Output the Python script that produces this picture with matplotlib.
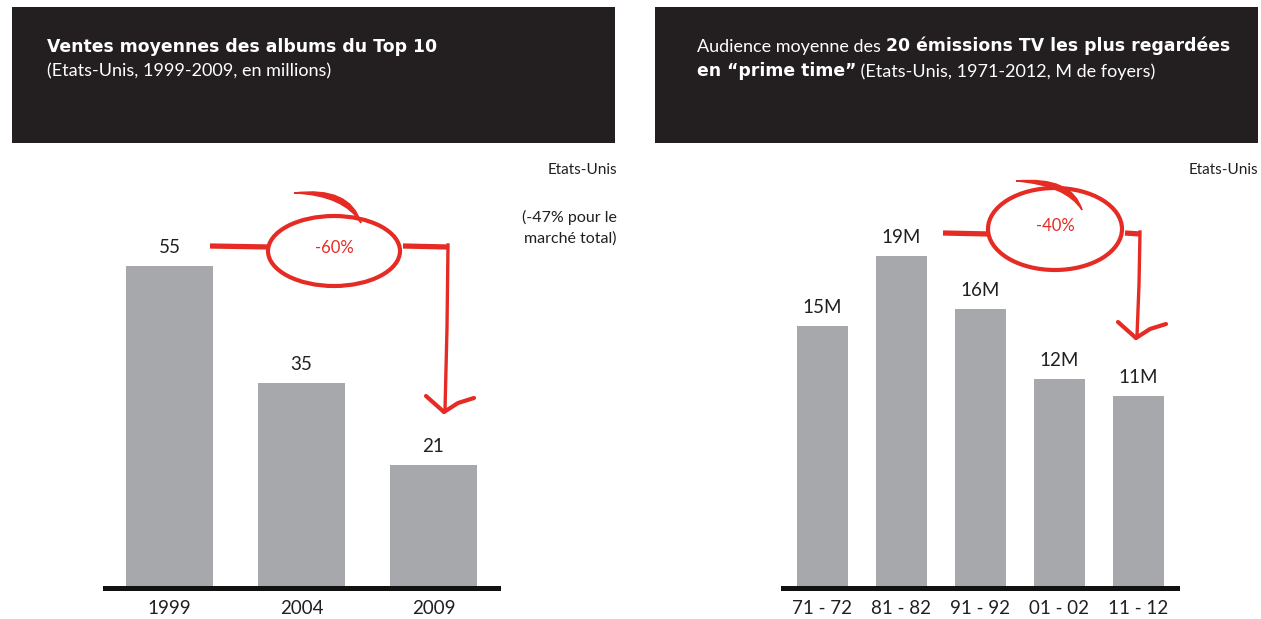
import matplotlib.pyplot as plt
from matplotlib.patches import Rectangle, Ellipse, PathPatch
from matplotlib.path import Path

plt.rcParams['font.family'] = ['Lato', 'DejaVu Sans']

# données
albums_annees = ["1999", "2004", "2009"]
albums_ventes = [55, 35, 21]

tv_saisons = ["71 - 72", "81 - 82", "91 - 92", "01 - 02", "11 - 12"]
tv_audience = [15, 19, 16, 12, 11]
tv_labels = ["15M", "19M", "16M", "12M", "11M"]

gris = '#a7a8ac'
rouge = '#e52b24'
fond_titre = '#231f20'
gras = ['DejaVu Sans']

W, H = 1261, 619
fig = plt.figure(figsize=(W / 100, H / 100), dpi=100)


def px(x0, y0, x1, y1):
    # rectangle en pixels (origine en haut à gauche) -> coordonnées figure
    return [x0 / W, 1 - y1 / H, (x1 - x0) / W, (y1 - y0) / H]


def barres(ax, cats, vals, labels, largeur, ymax):
    xs = range(len(cats))
    bars = ax.bar(xs, vals, width=largeur, color=gris, zorder=2)
    for b, lab in zip(bars, labels):
        ax.annotate(lab, (b.get_x() + b.get_width() / 2, b.get_height()),
                    xytext=(0, 13), textcoords='offset pixels',
                    ha='center', va='baseline', fontsize=13.5, color='#231f20')
    ax.set_xticks(list(xs))
    ax.set_xticklabels(cats, fontsize=13.5, color='#231f20')
    ax.tick_params(axis='x', length=0, pad=8.5)
    ax.set_yticks([])
    ax.set_ylim(0, ymax)
    for s in ['top', 'left', 'right']:
        ax.spines[s].set_visible(False)
    ax.spines['bottom'].set_linewidth(3.6)
    ax.spines['bottom'].set_color('#111111')
    ax.patch.set_alpha(0)


# graphique de gauche : ventes d'albums
ax1 = fig.add_axes(px(105, 150, 498, 588))
ax1.set_xlim(-0.49, 2.49)
barres(ax1, albums_annees, albums_ventes, [str(v) for v in albums_ventes], 0.66, 438 / 5.855)

# graphique de droite : audience TV
ax2 = fig.add_axes(px(783, 150, 1177, 588))
ax2.set_xlim(-0.5, 4.49)
barres(ax2, tv_saisons, tv_audience, tv_labels, 0.645, 438 / 17.45)

# calque pour les cartouches et les annotations (en pixels)
ov = fig.add_axes([0, 0, 1, 1])
ov.set_xlim(0, W)
ov.set_ylim(H, 0)
ov.axis('off')
ov.patch.set_alpha(0)

ov.add_patch(Rectangle((12, 7), 603, 136, color=fond_titre, lw=0))
ov.add_patch(Rectangle((655, 7), 603, 136, color=fond_titre, lw=0))

t_fs = 13
b_fs = 12.4
ov.text(47, 52, "Ventes moyennes des albums du Top 10", color='white',
        fontsize=b_fs, fontweight='bold', family=gras, va='baseline')
ov.text(47, 76, "(Etats-Unis, 1999-2009, en millions)", color='white',
        fontsize=t_fs, va='baseline')


def suite(prev, txt, bold):
    if bold:
        return ov.annotate(txt, xy=(1, 0), xycoords=prev, va='bottom', ha='left',
                           color='white', fontsize=b_fs, fontweight='bold', family=gras)
    return ov.annotate(txt, xy=(1, 0), xycoords=prev, va='bottom', ha='left',
                       color='white', fontsize=t_fs)


a = ov.text(697, 52, "Audience moyenne des ", color='white', fontsize=t_fs, va='baseline')
suite(a, "20 émissions TV les plus regardées", True)
b = ov.text(697, 76, "en \u201cprime time\u201d", color='white', fontsize=b_fs,
            fontweight='bold', family=gras, va='baseline')
suite(b, " (Etats-Unis, 1971-2012, M de foyers)", False)

ov.text(617, 170, "Etats-Unis", ha='right', va='center', fontsize=11, color='#231f20')
ov.text(617, 228, "(-47% pour le\nmarché total)", ha='right', va='center',
        fontsize=11.5, color='#231f20', linespacing=1.55)
ov.text(1258, 170, "Etats-Unis", ha='right', va='center', fontsize=11, color='#231f20')


def cercle(cx, cy, w, h, x_in, x_out, y_line, x_coude, y_fleche, texte, queue):
    ov.plot([x_in, cx - w / 2 + 2], [y_line, y_line + 1], color=rouge, lw=3.8,
            solid_capstyle='butt')
    ov.add_patch(Ellipse((cx, cy), w, h, fill=False, ec=rouge, lw=3.0))
    (qx0, qy0), (qcx, qcy), (qx1, qy1) = queue
    verts = [(qx0, qy0), (qcx, qcy - 4), (qx1, qy1), (qcx - 6, qcy + 5), (qx0, qy0)]
    codes = [Path.MOVETO, Path.CURVE3, Path.CURVE3, Path.CURVE3, Path.CURVE3]
    ov.add_patch(PathPatch(Path(verts, codes), color=rouge, lw=1))
    ov.plot([x_out, x_coude], [y_line, y_line + 1], color=rouge, lw=3.8,
            solid_capstyle='butt')
    ov.plot([x_coude, x_coude - 1, x_coude - 3], [y_line - 1, (y_line + y_fleche) / 2, y_fleche],
            color=rouge, lw=2.4)
    ov.plot([x_coude - 22, x_coude - 4], [y_fleche - 14, y_fleche + 2], color=rouge, lw=3.0,
            solid_capstyle='round')
    ov.plot([x_coude - 4, x_coude + 10, x_coude + 26], [y_fleche + 2, y_fleche - 7, y_fleche - 12],
            color=rouge, lw=3.0, solid_capstyle='round')
    ov.text(cx, cy - 3, texte, ha='center', va='center', color=rouge, fontsize=12)


cercle(334, 251, 132, 70, 210, 403, 246, 448, 410, "-60%",
       [(294, 193), (350, 190), (361, 223)])
cercle(1055, 229, 134, 82, 943, 1125, 233, 1140, 336, "-40%",
       [(1016, 181), (1072, 180), (1082, 210)])

fig.savefig('out.png', dpi=100)
